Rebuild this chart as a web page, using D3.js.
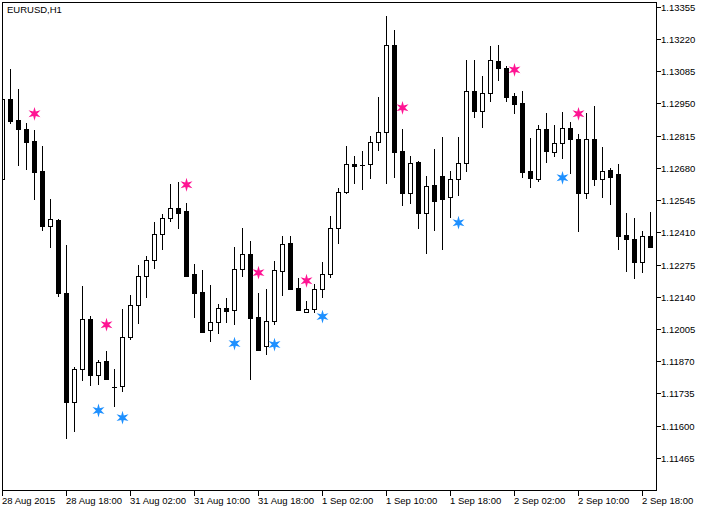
<!DOCTYPE html>
<html>
<head>
<meta charset="utf-8">
<script src="https://cdn.jsdelivr.net/npm/d3@7/dist/d3.min.js"></script>
<style>
  html, body { margin: 0; padding: 0; background: #ffffff; }
  svg { display: block; }
  text { font-family: "Liberation Sans", Arial, sans-serif; font-size: 9.5px; fill: #000; }
</style>
</head>
<body>
<svg id="chart" width="710" height="511"></svg>
<script>
const title = "EURUSD,H1";

const open = [1.12632,1.12966,1.12878,1.12841,1.12791,1.12665,1.12435,1.12460,1.12155,1.11699,
1.11837,1.12046,1.11812,1.11871,1.11762,1.11766,1.11971,1.12105,1.12226,1.12293,
1.12402,1.12468,1.12510,1.12498,1.12234,1.12159,1.12000,1.12034,1.12092,1.12084,
1.12255,1.12318,1.12055,1.11933,1.12038,1.12247,1.12364,1.12176,1.12075,1.12088,
1.12172,1.12234,1.12427,1.12577,1.12694,1.12690,1.12694,1.12786,1.12828,1.13192,
1.12749,1.12573,1.12703,1.12489,1.12607,1.12644,1.12556,1.12632,1.12698,1.13000,
1.12916,1.12995,1.13125,1.13096,1.12979,1.12949,1.12665,1.12632,1.12841,1.12745,
1.12782,1.12845,1.12799,1.12573,1.12799,1.12632,1.12669,1.12653,1.12397,1.12381,
1.12284,1.12393];

const high = [1.12970,1.13092,1.13008,1.12866,1.12837,1.12770,1.12548,1.12464,1.12356,1.11846,
1.12184,1.12059,1.11875,1.11912,1.11837,1.12088,1.12147,1.12272,1.12310,1.12452,
1.12485,1.12611,1.12619,1.12531,1.12276,1.12251,1.12188,1.12109,1.12134,1.12347,
1.12427,1.12372,1.12155,1.12172,1.12289,1.12393,1.12393,1.12218,1.12122,1.12193,
1.12284,1.12477,1.12594,1.12770,1.12728,1.12749,1.12811,1.12975,1.13317,1.13255,
1.12841,1.12728,1.12707,1.12644,1.12757,1.12807,1.12665,1.12807,1.13129,1.13129,
1.13066,1.13188,1.13192,1.13104,1.12995,1.13000,1.12803,1.12857,1.12908,1.12857,
1.12912,1.12870,1.12820,1.12908,1.12937,1.12766,1.12678,1.12694,1.12489,1.12468,
1.12414,1.12494];

const low = [1.12627,1.12866,1.12690,1.12673,1.12548,1.12418,1.12347,1.12142,1.11548,1.11578,
1.11791,1.11770,1.11774,1.11795,1.11683,1.11745,1.11963,1.12029,1.12138,1.12259,
1.12339,1.12456,1.12427,1.12226,1.12055,1.11992,1.11954,1.11988,1.12034,1.12025,
1.12226,1.11795,1.11917,1.11900,1.12025,1.12147,1.12172,1.12084,1.12075,1.12075,
1.12138,1.12222,1.12364,1.12573,1.12615,1.12590,1.12636,1.12753,1.12615,1.12640,
1.12523,1.12531,1.12427,1.12322,1.12418,1.12339,1.12473,1.12565,1.12665,1.12891,
1.12849,1.12958,1.13046,1.12958,1.12908,1.12640,1.12598,1.12623,1.12703,1.12728,
1.12719,1.12657,1.12414,1.12552,1.12607,1.12556,1.12527,1.12339,1.12247,1.12218,
1.12243,1.12347];

const close = [1.12966,1.12874,1.12841,1.12786,1.12661,1.12435,1.12464,1.12155,1.11699,1.11837,
1.12046,1.11812,1.11866,1.11795,1.11762,1.11971,1.12105,1.12226,1.12293,1.12402,
1.12468,1.12510,1.12489,1.12226,1.12155,1.11992,1.12034,1.12092,1.12080,1.12255,
1.12318,1.12050,1.11917,1.12038,1.12251,1.12360,1.12172,1.12084,1.12088,1.12172,
1.12234,1.12427,1.12577,1.12694,1.12686,1.12690,1.12786,1.12828,1.13192,1.12745,
1.12573,1.12698,1.12489,1.12602,1.12540,1.12548,1.12632,1.12698,1.13000,1.12916,
1.12995,1.13133,1.13096,1.12975,1.12945,1.12661,1.12636,1.12841,1.12749,1.12782,
1.12845,1.12799,1.12573,1.12799,1.12632,1.12665,1.12640,1.12393,1.12381,1.12284,
1.12393,1.12347];

// signal markers (bar index, price)
const sellBars   = [4, 13, 23, 32, 38, 50, 64, 72];
const sellPrices = [1.12908, 1.12025, 1.12611, 1.12243, 1.12209, 1.12933, 1.13092, 1.12908];
const buyBars    = [12, 15, 29, 34, 40, 57, 70];
const buyPrices  = [1.11666, 1.11636, 1.11946, 1.11942, 1.12059, 1.12452, 1.12640];

// axis labels
const xTickBars   = [0, 8, 16, 24, 32, 40, 48, 56, 64, 72, 80];
const xTickLabels = ["28 Aug 2015","28 Aug 18:00","31 Aug 02:00","31 Aug 10:00","31 Aug 18:00",
                     "1 Sep 02:00","1 Sep 10:00","1 Sep 18:00","2 Sep 02:00","2 Sep 10:00","2 Sep 18:00"];
const yTickValues = [1.13355,1.13220,1.13085,1.12950,1.12815,1.12680,1.12545,1.12410,
                     1.12275,1.12140,1.12005,1.11870,1.11735,1.11600,1.11465];

const sellColor = "#FF1493";
const buyColor  = "#1E90FF";

// layout
const L = 2, T = 2, R = 656, B = 490;
const svg = d3.select("#chart");
svg.append("rect").attr("x",0).attr("y",0).attr("width",710).attr("height",511).attr("fill","#fff");

const n = open.length;
const x = d3.scaleLinear().domain([0, n - 1]).range([2, 2 + 8 * (n - 1)]);
const y = d3.scaleLinear().domain([1.11465, 1.13355]).range([458, 6.5]);

svg.append("clipPath").attr("id","plotclip")
  .append("rect").attr("x", L + 0.5).attr("y", T + 0.5).attr("width", R - L).attr("height", B - T);

const plot = svg.append("g").attr("clip-path","url(#plotclip)");

const bars = d3.range(n).map(i => ({i, o: open[i], h: high[i], l: low[i], c: close[i]}));

// wicks
plot.selectAll("line.wick").data(bars).join("line")
  .attr("class","wick")
  .attr("x1", d => x(d.i) + 0.5).attr("x2", d => x(d.i) + 0.5)
  .attr("y1", d => Math.round(y(d.h))).attr("y2", d => Math.round(y(d.l)) + 1)
  .attr("stroke","#000").attr("stroke-width",1).attr("shape-rendering","crispEdges");

// bodies
bars.forEach(d => {
  const cx = x(d.i);
  const yo = Math.round(y(d.o)), yc = Math.round(y(d.c));
  if (d.c > d.o && yo - yc >= 2) {
    plot.append("rect")
      .attr("x", cx - 1.5).attr("y", yc + 0.5)
      .attr("width", 4).attr("height", yo - yc)
      .attr("fill","#fff").attr("stroke","#000").attr("stroke-width",1);
  } else {
    const top = Math.min(yo, yc), bot = Math.max(yo, yc);
    plot.append("rect")
      .attr("x", cx - 2).attr("y", top)
      .attr("width", 5).attr("height", Math.max(1, bot - top + 1))
      .attr("fill","#000").attr("shape-rendering","crispEdges");
  }
});

// six-pointed star markers
function starPath(R0, r0) {
  const pts = d3.range(12).map(k => {
    const a = (k * 30 - 90) * Math.PI / 180;
    const rr = k % 2 === 0 ? R0 : r0;
    return [rr * Math.cos(a), rr * Math.sin(a)];
  });
  return d3.line()(pts) + "Z";
}
const star = starPath(6.9, 2.6);
const sells = sellBars.map((b, k) => ({b, p: sellPrices[k]}));
const buys  = buyBars.map((b, k) => ({b, p: buyPrices[k]}));
plot.selectAll("path.sell").data(sells).join("path")
  .attr("class","sell").attr("d", star)
  .attr("transform", d => `translate(${x(d.b) + 0.5},${y(d.p) + 0.5})`)
  .attr("fill", sellColor);
plot.selectAll("path.buy").data(buys).join("path")
  .attr("class","buy").attr("d", star)
  .attr("transform", d => `translate(${x(d.b) + 0.5},${y(d.p) + 0.5})`)
  .attr("fill", buyColor);

// frame
svg.append("rect").attr("x", L + 0.5).attr("y", T + 0.5).attr("width", R - L).attr("height", B - T)
  .attr("fill","none").attr("stroke","#000").attr("stroke-width",1).attr("shape-rendering","crispEdges");

// y axis (right)
const yAxis = svg.append("g");
yTickValues.forEach(v => {
  const yy = Math.round(y(v)) + 0.5;
  yAxis.append("line").attr("x1", R + 0.5).attr("x2", R + 4.5).attr("y1", yy).attr("y2", yy)
    .attr("stroke","#000").attr("shape-rendering","crispEdges");
  yAxis.append("text").attr("x", R + 5).attr("y", yy + 3.5).text(v.toFixed(5));
});

// x axis (bottom)
const xAxis = svg.append("g");
xTickBars.forEach((b, k) => {
  const xx = x(b) + 0.5;
  xAxis.append("line").attr("x1", xx).attr("x2", xx).attr("y1", B + 0.5).attr("y2", B + 6)
    .attr("stroke","#000").attr("shape-rendering","crispEdges");
  xAxis.append("text").attr("x", x(b)).attr("y", 504).text(xTickLabels[k]);
});

// title
svg.append("text").attr("x", 7).attr("y", 13).text(title);
</script>
</body>
</html>
